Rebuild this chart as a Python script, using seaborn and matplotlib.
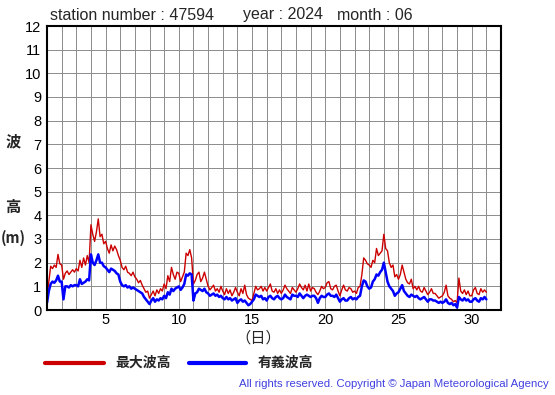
import numpy as np
import pandas as pd
import seaborn as sns
import matplotlib.pyplot as plt
from matplotlib.lines import Line2D

station = "47594"
year = "2024"
month = "06"

# wave heights (m), every 3 hours, day 1 00h .. day 31 00h
max_wave = [
    0.6, 1.2, 1.85, 1.75, 1.9, 1.8, 2.35, 1.95,
    1.9, 1.3, 1.55, 1.65, 1.5, 1.6, 1.7, 1.6,
    1.75, 1.65, 2.1, 1.8, 2.2, 1.9, 2.3, 2.0,
    3.6, 3.2, 2.9, 3.3, 3.85, 3.1, 3.2, 2.8,
    2.9, 2.6, 2.4, 2.75, 2.5, 2.7, 2.55, 2.3,
    2.1, 1.8, 1.7, 1.85, 1.6, 1.55, 1.45, 1.6,
    1.4, 1.3, 1.15, 1.25, 1.05, 0.9, 0.75, 0.8,
    0.5, 0.65, 0.8, 0.6, 0.85, 0.7, 0.9, 0.8,
    1.1, 0.9, 1.45, 1.2, 1.8, 1.5, 1.3, 1.6,
    1.55, 1.2, 1.4, 1.6, 2.4, 2.3, 2.55, 2.2,
    1.1, 1.25, 1.5, 1.6, 1.2, 1.35, 1.6, 1.3,
    1.0, 0.85, 0.95, 1.05, 0.8, 0.9, 0.75, 1.0,
    0.8, 0.65, 0.9, 0.7, 0.85, 0.6, 0.75, 0.95,
    0.75, 0.6, 0.9, 0.7, 1.05, 0.65, 0.5, 0.45,
    0.4, 0.7, 1.0, 0.85, 0.9, 1.0, 0.8, 0.95,
    0.8, 0.95, 1.1, 0.8, 0.75, 0.9, 0.7, 0.85,
    0.7, 0.85, 1.05, 0.9, 0.8, 0.7, 0.95, 0.85,
    0.75, 0.9, 1.1, 0.95, 0.85, 1.05, 0.8, 1.1,
    0.8, 0.95, 0.9, 0.75, 0.65, 0.8, 1.0, 0.9,
    0.95, 1.15, 1.2, 0.9, 0.85, 1.0, 1.05, 0.8,
    0.6, 0.85, 1.05, 0.85, 0.8, 0.95, 0.9, 0.75,
    0.8, 0.7, 0.95, 1.0, 1.5, 2.2, 2.1, 1.95,
    1.9, 1.8, 2.1, 2.0, 2.6, 2.3, 2.4, 2.5,
    3.2, 2.6, 2.5, 2.0, 1.8, 1.9, 1.4, 1.5,
    1.3, 1.5, 1.9, 1.6, 1.3, 1.15, 1.1, 1.3,
    0.9, 1.0, 0.85, 1.0, 0.8, 0.75, 0.95, 0.8,
    0.65, 0.75, 0.9, 0.7, 0.7, 0.6, 0.5, 0.55,
    0.6, 0.75, 1.05, 0.6, 0.5, 0.45, 0.35, 0.4,
    0.3, 1.35, 0.8, 0.7, 0.85, 0.65, 0.8, 0.6,
    0.6, 0.85, 0.95, 0.7, 0.65, 0.9, 0.75, 0.85,
    0.75,
]
sig_wave = [
    0.3, 0.8, 1.1, 1.2, 1.15, 1.25, 1.45, 1.2,
    1.2, 0.45, 1.0, 1.0, 0.95, 1.05, 1.0, 1.05,
    1.05, 1.0, 1.3, 1.1, 1.15, 1.2, 1.3, 1.25,
    2.35, 2.0, 1.9, 2.1, 2.35, 2.0, 2.0, 1.85,
    1.8, 1.7, 1.6, 1.75, 1.7, 1.65, 1.55, 1.5,
    1.2, 1.05, 1.0, 1.05, 0.95, 1.0, 0.9, 0.95,
    0.9, 0.85, 0.8, 0.75, 0.7, 0.55, 0.45, 0.35,
    0.25, 0.4, 0.5, 0.35, 0.45, 0.4, 0.5, 0.45,
    0.6, 0.5, 0.75, 0.65, 0.9, 0.8, 0.9, 0.95,
    1.0, 0.85, 0.95, 1.1, 1.5, 1.45, 1.55, 1.5,
    0.4, 0.7, 0.75, 0.9, 0.85, 0.8, 0.9, 0.75,
    0.7, 0.6, 0.65, 0.7, 0.6, 0.65, 0.55, 0.6,
    0.5, 0.45, 0.55, 0.45, 0.5, 0.4, 0.45, 0.5,
    0.3, 0.4, 0.45, 0.35, 0.4, 0.3, 0.2, 0.25,
    0.35, 0.45, 0.65, 0.6, 0.55, 0.6, 0.45, 0.5,
    0.4, 0.55, 0.6, 0.5, 0.45, 0.55, 0.6, 0.5,
    0.45, 0.5, 0.65, 0.55, 0.5, 0.45, 0.65, 0.6,
    0.6, 0.55, 0.7, 0.6, 0.5, 0.6, 0.65, 0.6,
    0.55, 0.6, 0.6, 0.5, 0.3, 0.5, 0.6, 0.55,
    0.55, 0.65, 0.7, 0.6, 0.6, 0.55, 0.65, 0.5,
    0.35, 0.45, 0.5, 0.4, 0.4, 0.5, 0.55, 0.45,
    0.5, 0.45, 0.55, 0.6, 1.0, 1.25, 1.2, 1.0,
    0.9, 0.95, 1.2, 1.3, 1.5, 1.45, 1.6, 1.7,
    2.0, 1.6, 1.2, 1.0, 0.9, 0.8, 0.6, 0.7,
    0.75, 0.9, 1.05, 0.8, 0.7, 0.6, 0.55, 0.65,
    0.6, 0.55, 0.6, 0.5, 0.45, 0.5, 0.55, 0.45,
    0.35, 0.45, 0.45, 0.4, 0.4, 0.35, 0.3, 0.35,
    0.3, 0.35, 0.45, 0.3, 0.25, 0.3, 0.2, 0.25,
    0.1, 0.55, 0.45, 0.4, 0.5, 0.4, 0.45, 0.35,
    0.35, 0.45, 0.5, 0.4, 0.35, 0.5, 0.45, 0.55,
    0.45,
]
hours = np.arange(len(max_wave)) * 3
day_ticks = [5, 10, 15, 20, 25, 30]
height_ticks = list(range(0, 13))

df = pd.DataFrame({"day": 1 + hours / 24.0, "max": max_wave, "sig": sig_wave})

sns.set_style("white")
plt.rcParams['font.family'] = ['Liberation Sans', 'Noto Sans CJK JP', 'DejaVu Sans']

fig = plt.figure(figsize=(5.55, 3.95), dpi=100)
ax = fig.add_axes([47 / 555, 85 / 395, 454 / 555, 284 / 395])

sns.lineplot(data=df, x="day", y="max", color="#cc0000", linewidth=1.0, ax=ax)
sns.lineplot(data=df, x="day", y="sig", color="#0000ff", linewidth=1.8, ax=ax)

ax.set_xlim(1, 32)
ax.set_ylim(0, 12)
ax.set_xticks(day_ticks)
ax.set_xticks(range(1, 33), minor=True)
ax.set_yticks(height_ticks)
ax.tick_params(which="both", length=0, labelsize=10.5, colors="black")
ax.tick_params(axis="x", pad=2)
ax.tick_params(axis="y", pad=4)
ax.grid(True, which="both", color="#8c8c8c", linewidth=0.7)
ax.set_axisbelow(True)
for s in ax.spines.values():
    s.set_color("black")
    s.set_linewidth(1.5)
ax.set_xlabel("")
ax.set_ylabel("")

cjk = ['Noto Sans CJK JP', 'DejaVu Sans']
fig.text(50 / 555, 1 - 15 / 395, f"station number : {station}", fontsize=11.5, va="center")
fig.text(243 / 555, 1 - 15 / 395, f"year : {year}", fontsize=11.5, va="center")
fig.text(337 / 555, 1 - 15 / 395, f"month : {month}", fontsize=11.5, va="center")

fig.text(13 / 555, 1 - 141 / 395, "波", fontsize=11, ha="center", va="center",
         family=cjk, fontweight="bold")
fig.text(13 / 555, 1 - 207 / 395, "高", fontsize=11, ha="center", va="center",
         family=cjk, fontweight="bold")
fig.text(13 / 555, 1 - 238 / 395, "(m)", fontsize=10.5, ha="center", va="center",
         family=cjk, fontweight="bold")
fig.text(258 / 555, 1 - 338 / 395, "（日）", fontsize=11, ha="center", va="center",
         family=cjk)

fig.add_artist(Line2D([45 / 555, 104 / 555], [1 - 363 / 395] * 2, color="#cc0000", linewidth=3))
fig.text(115 / 555, 1 - 363 / 395, "最大波高", fontsize=10, va="center", family=cjk,
         fontweight="bold")
fig.add_artist(Line2D([189 / 555, 246 / 555], [1 - 363 / 395] * 2, color="#0000ff", linewidth=3))
fig.text(258 / 555, 1 - 363 / 395, "有義波高", fontsize=10, va="center", family=cjk,
         fontweight="bold")

fig.text(549 / 555, 1 - 384 / 395, "All rights reserved. Copyright © Japan Meteorological Agency",
         fontsize=8.2, ha="right", va="center", color="#4040e0",
         family=['Liberation Sans', 'DejaVu Sans'])

fig.savefig("out.png", dpi=100)
